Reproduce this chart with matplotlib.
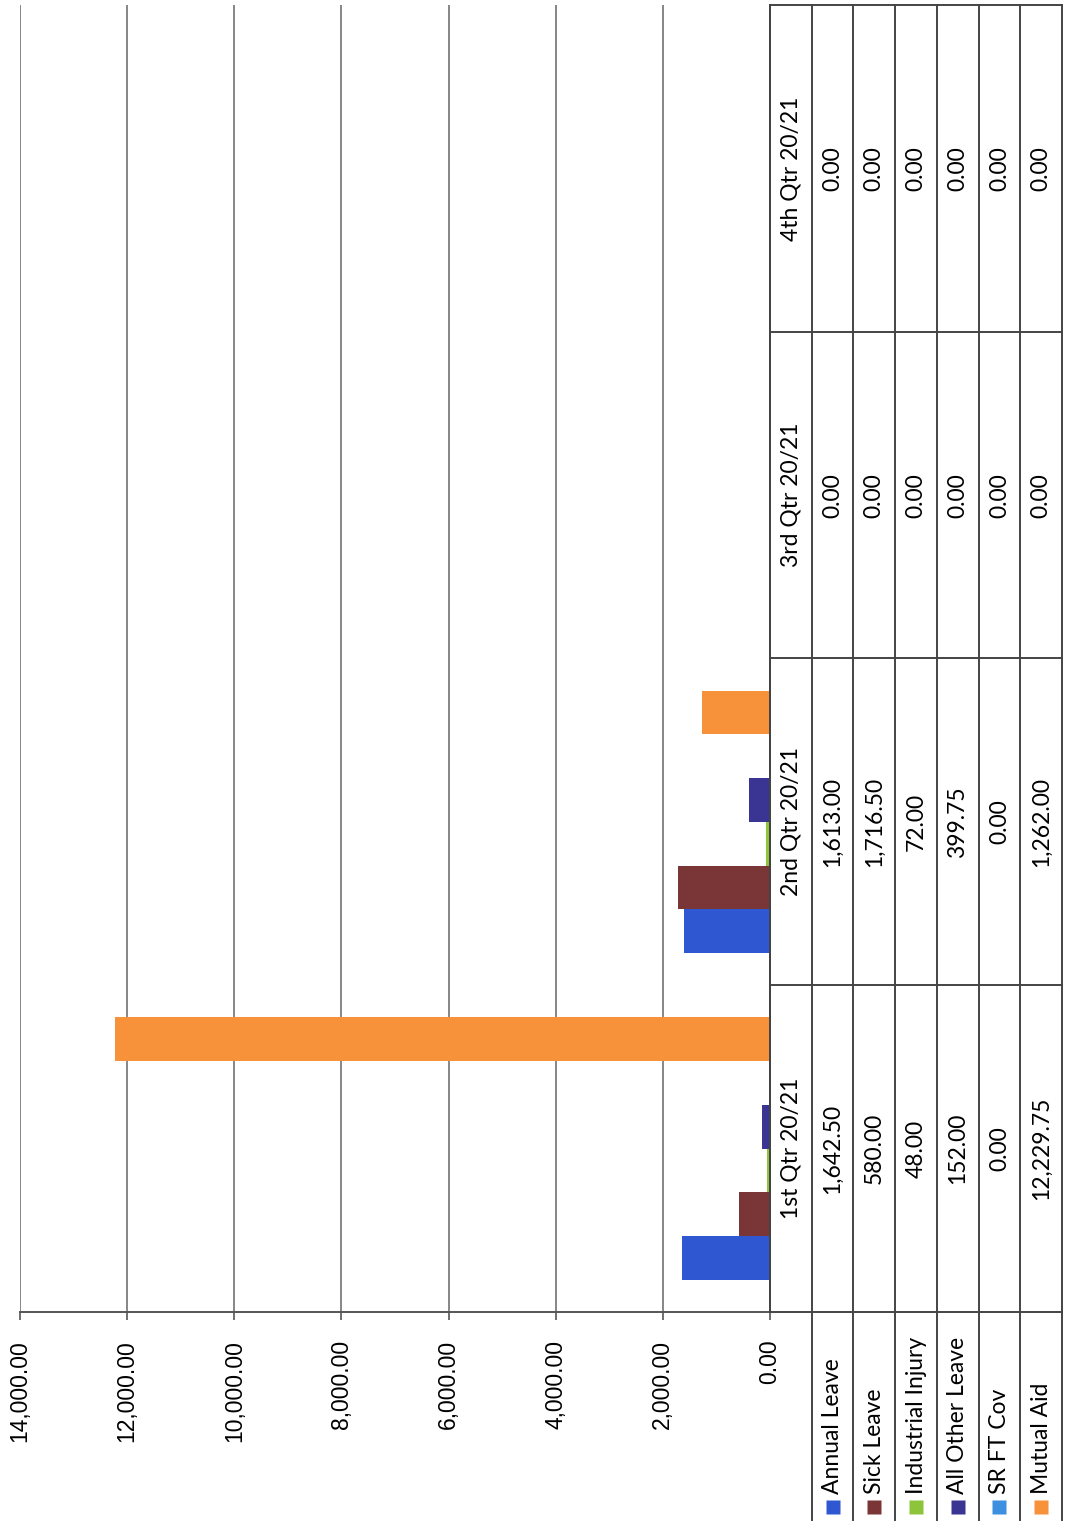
import matplotlib
matplotlib.use("Agg")
import matplotlib.pyplot as plt
import numpy as np

# ---------------- data ----------------
categories = ["1st Qtr 20/21", "2nd Qtr 20/21", "3rd Qtr 20/21", "4th Qtr 20/21"]
series_names = ["Annual Leave", "Sick Leave", "Industrial Injury",
                "All Other Leave", "SR FT Cov", "Mutual Aid"]
annual_leave = [1642.50, 1613.00, 0.00, 0.00]
sick_leave = [580.00, 1716.50, 0.00, 0.00]
industrial_injury = [48.00, 72.00, 0.00, 0.00]
all_other_leave = [152.00, 399.75, 0.00, 0.00]
sr_ft_cov = [0.00, 0.00, 0.00, 0.00]
mutual_aid = [12229.75, 1262.00, 0.00, 0.00]
value_ticks = [0, 2000, 4000, 6000, 8000, 10000, 12000, 14000]

series_values = [annual_leave, sick_leave, industrial_injury,
                 all_other_leave, sr_ft_cov, mutual_aid]
colors = ["#2f57d2", "#7a3636", "#8cc43c", "#3a3592", "#3d8fe0", "#f7923a"]

# ---------------- layout ----------------
W, H = 1066, 1521
fig = plt.figure(figsize=(W / 100, H / 100), dpi=100)
fig.patch.set_facecolor("white")


def px_axes(x0, y0, x1, y1):
    return fig.add_axes([x0 / W, 1 - y1 / H, (x1 - x0) / W, (y1 - y0) / H])


PLOT_TOP, PLOT_BOT = 5, 1312
TABLE_L, TABLE_R = 770, 1062
ncat = len(categories)
px_per_unit = (PLOT_BOT - PLOT_TOP) / ncat

# ---------------- bar chart (rotated view) ----------------
ax = px_axes(20, PLOT_TOP, TABLE_L, PLOT_BOT)
n = len(series_values)
bw = 0.134
idx = np.arange(ncat)
for i, (vals, col) in enumerate(zip(series_values, colors)):
    ax.barh(idx + (i - (n - 1) / 2) * bw, vals, height=bw, color=col,
            edgecolor="none", zorder=3)

ax.set_xlim(max(value_ticks), 0)
ax.set_ylim(-0.5, ncat - 0.5)
ax.set_xticks(value_ticks)
ax.set_xticklabels([f"{v:,.2f}" for v in value_ticks], rotation=90,
                   fontsize=16.5, family="Liberation Sans", color="black")
ax.tick_params(axis="x", length=6, width=1.2, color="#555555", pad=14)
ax.set_yticks([])
ax.grid(axis="x", color="#666666", lw=1.1)
ax.set_axisbelow(True)
for s in ["top", "left"]:
    ax.spines[s].set_visible(False)
ax.spines["bottom"].set_color("#555555")
ax.spines["bottom"].set_linewidth(1.4)
ax.spines["right"].set_color("#444444")
ax.spines["right"].set_linewidth(1.4)

# ---------------- data table (rotated) ----------------
tx = px_axes(TABLE_L, PLOT_TOP, TABLE_R, H)
ybot = (ncat - 0.5) - (H - PLOT_TOP) / px_per_unit
tx.set_xlim(0, n + 1)
tx.set_ylim(ybot, ncat - 0.5)
tx.axis("off")


def py2d(py):
    return (ncat - 0.5) - (py - PLOT_TOP) / px_per_unit


lc = "#444444"
lw = 1.4
# category separators
for b in np.arange(-0.5, ncat, 1.0):
    tx.plot([0, n + 1], [b, b], color=lc, lw=lw, clip_on=False)
# column separators
tx.plot([0, 0], [-0.5, ncat - 0.5], color=lc, lw=lw, clip_on=False)
for k in range(1, n + 2):
    tx.plot([k, k], [ybot, ncat - 0.5], color=lc, lw=lw, clip_on=False)

tfont = dict(family="Lato", fontsize=16.5, color="black")
for j, cat in enumerate(categories):
    tx.text(0.5, j, cat, rotation=90, ha="center", va="center", **tfont)
    for i, vals in enumerate(series_values):
        tx.text(i + 1.5, j, f"{vals[j]:,.2f}", rotation=90, ha="center",
                va="center", **tfont)

# legend keys in the row headers
for i, (name, col) in enumerate(zip(series_names, colors)):
    tx.plot([i + 1.5], [py2d(1507)], marker="s", markersize=9.5, color=col,
            markeredgecolor="none", clip_on=False)
    tx.text(i + 1.5, py2d(1494), name, rotation=90, ha="center", va="bottom",
            **tfont)

fig.savefig("out.png", dpi=100, facecolor="white")
